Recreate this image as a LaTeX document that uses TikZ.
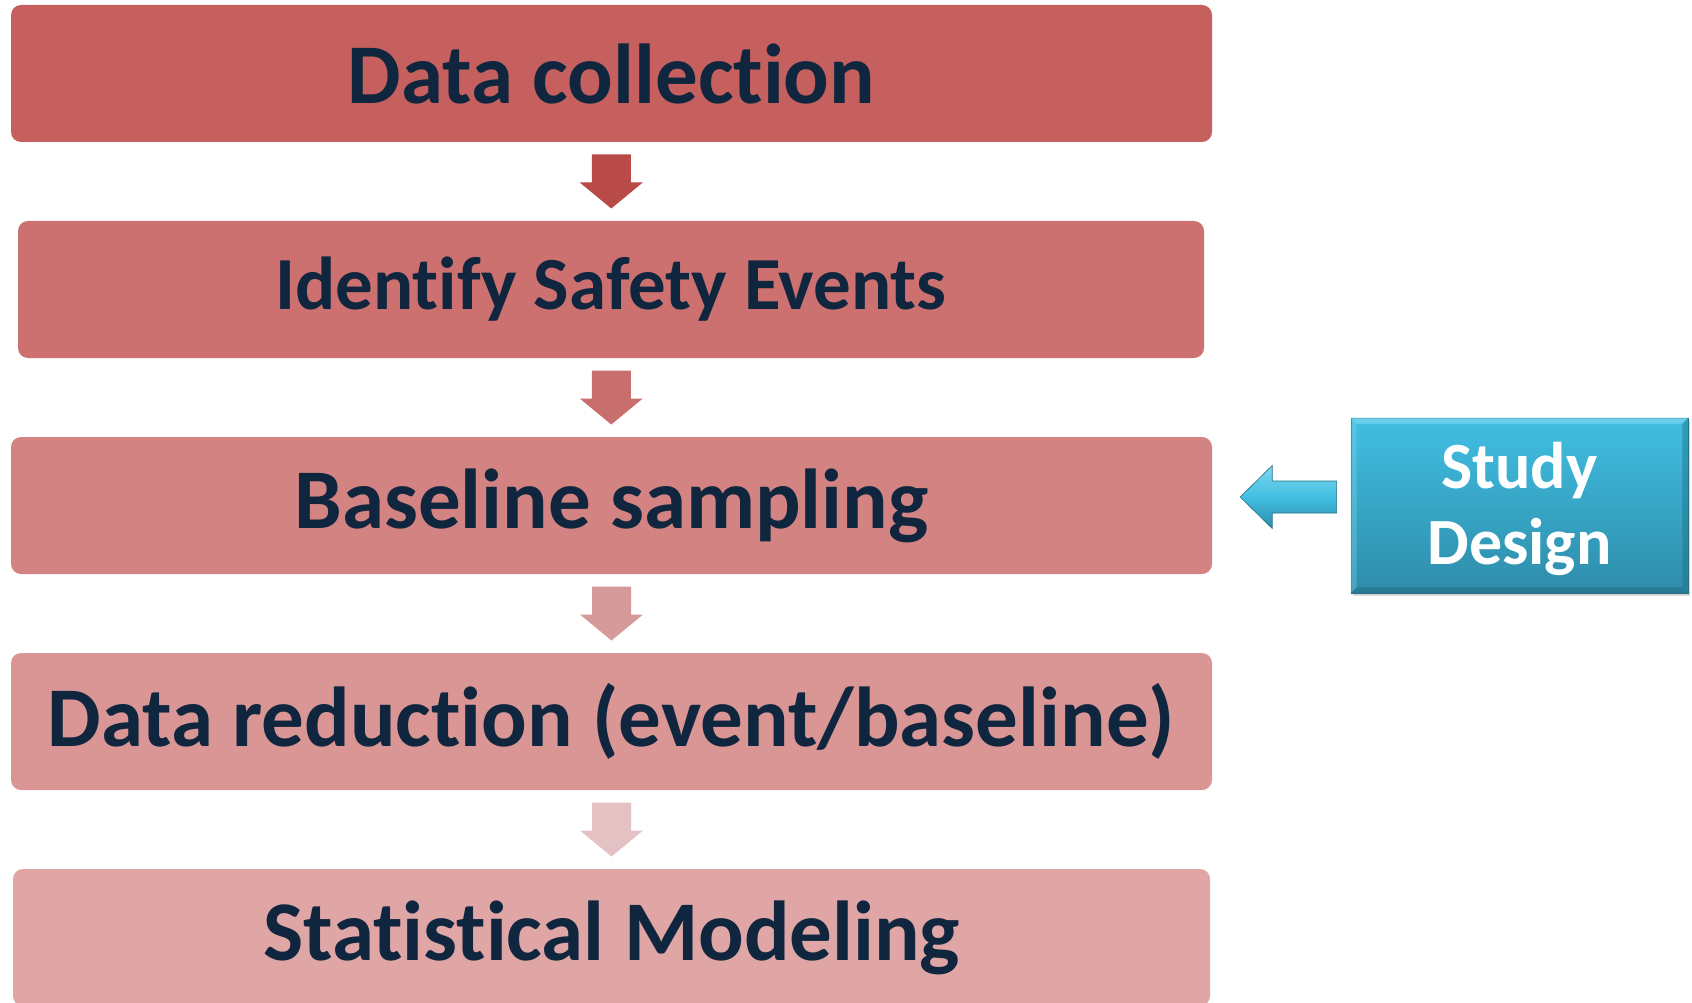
\documentclass[tikz,border=0pt]{standalone}
\usepackage{fontspec}
\setmainfont{Carlito}[Ligatures=NoCommon]
\usetikzlibrary{calc,shadows}
\definecolor{ink}{HTML}{10263F}
\definecolor{boxA}{HTML}{C6605E}
\definecolor{boxB}{HTML}{CC716F}
\definecolor{boxC}{HTML}{D38381}
\definecolor{boxD}{HTML}{D99695}
\definecolor{boxE}{HTML}{DFA6A5}
\definecolor{arrA}{HTML}{B84A48}
\definecolor{arrB}{HTML}{C86E6C}
\definecolor{arrC}{HTML}{D59A99}
\definecolor{arrD}{HTML}{E4C1C2}
\definecolor{tealTop}{HTML}{41BFE3}
\definecolor{tealBot}{HTML}{2E8CA9}
\definecolor{tealLight}{HTML}{7FD6EE}
\definecolor{tealDark}{HTML}{226F87}
\tikzset{
  stage/.style={rounded corners=10pt, inner sep=0pt, minimum height=137pt,
    text=ink},
  bigtext/.style={font=\bfseries\fontsize{85}{100}\selectfont},
}
% downward block arrow centred between two stacked stages
\newcommand\flowarrow[3]{%
  \coordinate (m) at ($(#1.south)!0.5!(#2.north)$);
  \fill[#3] ($(m)+(-19.5,-27)$) -- ($(m)+(19.5,-27)$) -- ($(m)+(19.5,1)$)
    -- ($(m)+(31.5,1)$) -- ($(m)+(0,27)$) -- ($(m)+(-31.5,1)$)
    -- ($(m)+(-19.5,1)$) -- cycle;
}
\begin{document}
\begin{tikzpicture}[x=1pt,y=-1pt]
\useasboundingbox[fill=white] (0,0) rectangle (1692,1003);

\node[stage, bigtext, fill=boxA, minimum width=1201pt] (dc) at (611.5,73.5)
  {Data collection};
\node[stage, fill=boxB, minimum width=1186pt,
  font=\bfseries\fontsize{75}{90}\selectfont] (ise) at (611,289.5)
  {Identify Safety Events};
\node[stage, bigtext, fill=boxC, minimum width=1201pt] (bs) at (611.5,505.5)
  {Baseline sampling};
\node[stage, bigtext, fill=boxD, minimum width=1201pt] (dr) at (611.5,721.5)
  {Data reduction (event/baseline)};
\node[stage, bigtext, fill=boxE, minimum width=1197pt] (sm) at (611.5,937.5)
  {Statistical Modeling};

\flowarrow{dc}{ise}{arrA}
\flowarrow{ise}{bs}{arrB}
\flowarrow{bs}{dr}{arrC}
\flowarrow{dr}{sm}{arrD}

% bevelled study-design box
\node[minimum width=337pt, minimum height=175pt, inner sep=0pt,
  top color=tealTop, bottom color=tealBot, draw=tealDark, line width=0.8pt,
  drop shadow={shadow xshift=2pt, shadow yshift=-3pt, opacity=0.3}]
  (sd) at (1519.5,505.5) {};
\fill[tealLight, opacity=0.7] (sd.north west) -- (sd.north east)
  -- ($(sd.north east)+(-6,6)$) -- ($(sd.north west)+(6,6)$) -- cycle;
\fill[tealLight, opacity=0.35] (sd.north west) -- ($(sd.north west)+(6,6)$)
  -- ($(sd.south west)+(6,-6)$) -- (sd.south west) -- cycle;
\fill[tealDark, opacity=0.45] (sd.north east) -- ($(sd.north east)+(-6,6)$)
  -- ($(sd.south east)+(-6,-6)$) -- (sd.south east) -- cycle;
\fill[tealDark, opacity=0.6] (sd.south west) -- ($(sd.south west)+(6,-6)$)
  -- ($(sd.south east)+(-6,-6)$) -- (sd.south east) -- cycle;
\node[text=white, align=center, font=\bfseries\fontsize{66}{76}\selectfont]
  (sdt) at ($(sd.center)+(0,3)$) {Study\\Design};

% left-pointing block arrow from the study-design box to baseline sampling
\coordinate (tip) at ($(bs.east)+(28,-8.5)$);
\coordinate (tail) at ($(sd.west)+(-14,-8.5)$);
\shade[top color=tealLight, bottom color=tealBot, middle color=tealTop,
  draw=tealDark, line width=0.6pt]
  (tip) -- ($(tip)+(32,-31.5)$) -- ($(tip)+(32,-16)$) -- ($(tail)+(0,-16)$)
  -- ($(tail)+(0,16)$) -- ($(tip)+(32,16)$) -- ($(tip)+(32,31.5)$) -- cycle;
\end{tikzpicture}
\end{document}
